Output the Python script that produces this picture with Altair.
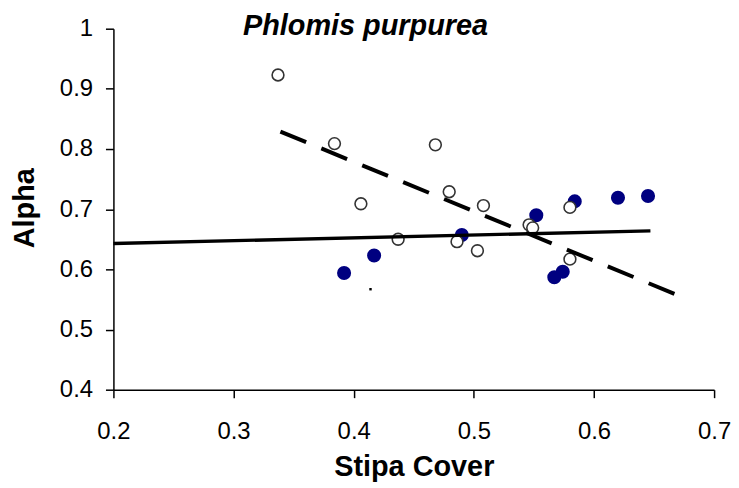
import altair as alt
import pandas as pd

# Open (white) circles
open_x = [0.337, 0.384, 0.468, 0.406, 0.4795, 0.508, 0.437, 0.486, 0.503, 0.546, 0.549, 0.580, 0.580]
open_y = [0.923, 0.809, 0.807, 0.709, 0.729, 0.706, 0.650, 0.646, 0.631, 0.674, 0.669, 0.703, 0.617]

# Filled (navy) circles
filled_x = [0.392, 0.417, 0.490, 0.552, 0.584, 0.620, 0.645, 0.574, 0.567]
filled_y = [0.594, 0.623, 0.657, 0.690, 0.713, 0.719, 0.722, 0.596, 0.587]

# Fitted lines (endpoints)
solid_x = [0.2, 0.647]
solid_y = [0.643, 0.664]
dashed_x = [0.339, 0.677]
dashed_y = [0.829, 0.551]

# stray speck
speck_x = [0.414]
speck_y = [0.567]

x_ticks = [0.2, 0.3, 0.4, 0.5, 0.6, 0.7]
y_ticks = [0.4, 0.5, 0.6, 0.7, 0.8, 0.9, 1.0]

FONT = "Liberation Sans"

df_open = pd.DataFrame({"x": open_x, "y": open_y})
df_filled = pd.DataFrame({"x": filled_x, "y": filled_y})
df_solid = pd.DataFrame({"x": solid_x, "y": solid_y})
df_dashed = pd.DataFrame({"x": dashed_x, "y": dashed_y})
df_speck = pd.DataFrame({"x": speck_x, "y": speck_y})

xscale = alt.Scale(domain=[0.2, 0.7], nice=False, zero=False)
yscale = alt.Scale(domain=[0.4, 1.0], nice=False, zero=False)

common_axis = dict(
    grid=False, domainColor="black", domainWidth=1.5, tickColor="black",
    tickWidth=1.5, tickSize=8, labelFont=FONT, labelFontSize=24,
    labelColor="black", titleFont=FONT, titleFontSize=29,
    titleFontWeight="bold", titleColor="black", labelFlush=False,
)

xaxis = alt.Axis(values=x_ticks, format=".1f", title="Stipa Cover",
                 labelPadding=22, titleBaseline="alphabetic", titleY=86.5,
                 titleX=302, titleAlign="center", **common_axis)
yaxis = alt.Axis(values=y_ticks, format=".1~f", title="Alpha",
                 labelPadding=13, titleBaseline="alphabetic", titleAngle=-90,
                 titleX=-80.7, titleY=180, titleAlign="center", **common_axis)

X = alt.X("x:Q", scale=xscale, axis=xaxis)
Y = alt.Y("y:Q", scale=yscale, axis=yaxis)

filled = alt.Chart(df_filled).mark_circle(
    color="#000080", size=200, opacity=1
).encode(x=X, y=Y)

opened = alt.Chart(df_open).mark_circle(
    fill="white", stroke="#333333", strokeWidth=1.6, size=140, opacity=1, fillOpacity=1
).encode(x=X, y=Y)

solid = alt.Chart(df_solid).mark_line(
    color="black", strokeWidth=3.4
).encode(x=X, y=Y)

dashed = alt.Chart(df_dashed).mark_line(
    color="black", strokeWidth=4, strokeDash=[28, 16.5]
).encode(x=X, y=Y)

speck = alt.Chart(df_speck).mark_square(
    color="black", size=6, opacity=1
).encode(x=X, y=Y)

chart = alt.layer(filled, opened, solid, dashed, speck).properties(
    width=604, height=363,
    background="white",
    title=alt.TitleParams(
        "Phlomis purpurea", font=FONT, fontSize=29, fontWeight="bold",
        fontStyle="italic", color="black", anchor="middle", dx=-48.5,
        baseline="alphabetic", offset=0, dy=47,
    ),
    padding={"left": 106, "top": 19.5, "right": 17, "bottom": 92},
    autosize="none",
).configure_view(strokeWidth=0, stroke=None)

chart.save("out.html", embed_options={"renderer": "svg", "actions": False})
